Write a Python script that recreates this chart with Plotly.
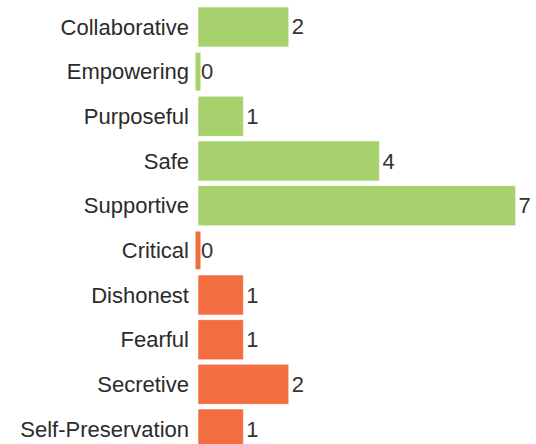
import plotly.graph_objects as go

# Survey tallies per descriptor
categories = ["Collaborative", "Empowering", "Purposeful", "Safe", "Supportive",
              "Critical", "Dishonest", "Fearful", "Secretive", "Self-Preservation"]
counts = [2, 0, 1, 4, 7, 0, 1, 1, 2, 1]
groups = ["positive"] * 5 + ["negative"] * 5

palette = {"positive": "#a6d16c", "negative": "#f26d3f"}
colors = [palette[g] for g in groups]
FONT = "Liberation Sans, Arial, sans-serif"

fig = go.Figure()
fig.add_trace(go.Bar(
    x=counts,
    y=categories,
    orientation="h",
    marker=dict(color=colors, line=dict(color="rgba(255,255,255,0.55)", width=1)),
    text=[str(v) for v in counts],
    textposition="outside",
    cliponaxis=False,
    textfont=dict(family=FONT, size=22, color="#333333"),
    hoverinfo="skip",
))

# Zero counts still get a thin marker so the row isn't empty
zero_y = [c for c, v in zip(categories, counts) if v == 0]
zero_x = [v for v in counts if v == 0]
zero_c = [col for col, v in zip(colors, counts) if v == 0]
fig.add_trace(go.Scatter(
    x=zero_x,
    y=zero_y,
    mode="markers",
    marker=dict(symbol="line-ns", size=27, line=dict(color=zero_c, width=5)),
    cliponaxis=False,
    hoverinfo="skip",
    showlegend=False,
))

fig.update_layout(
    width=536,
    height=444,
    margin=dict(l=198, r=0, t=0, b=0),
    paper_bgcolor="white",
    plot_bgcolor="white",
    showlegend=False,
    bargap=0.105,
    font=dict(family=FONT, size=22, color="#333333"),
)
fig.update_xaxes(range=[0, 7.45], visible=False, showgrid=False, zeroline=False)
fig.update_yaxes(
    type="category",
    categoryorder="array",
    categoryarray=categories,
    range=[9.335, -0.604],
    showgrid=False,
    zeroline=False,
    showline=False,
    ticks="",
    ticklabelstandoff=8,
    tickfont=dict(family=FONT, size=22, color="#2b2b2b"),
)

fig.write_html("out.html")
